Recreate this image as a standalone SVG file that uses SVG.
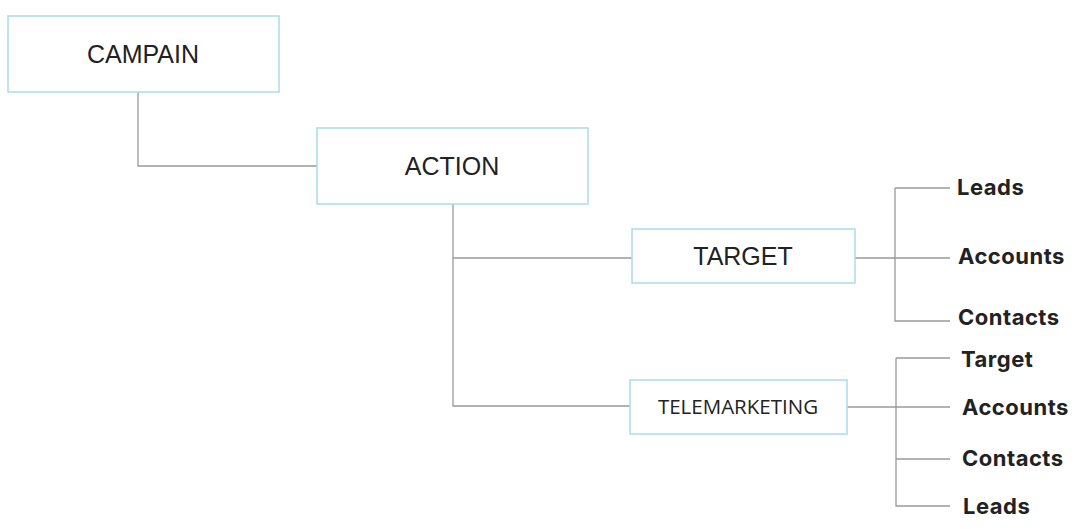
<svg xmlns="http://www.w3.org/2000/svg" width="1080" height="529" viewBox="0 0 1080 529">
<style>
.box{fill:#fff;stroke:#a9dcec;stroke-width:1.5}
.bt{font-family:"Liberation Sans",Arial,sans-serif;font-size:25px;fill:#222;text-anchor:middle}
.lb{font-family:Inter,"Liberation Sans",sans-serif;font-size:22px;font-weight:bold;fill:#222;letter-spacing:0.5px}
.c{fill:none;stroke:#9a9a9a;stroke-width:1.3}
</style>
<rect width="1080" height="529" fill="#fff"/>
<g id="connectors">
<path class="c" d="M138 92V166H317"/>
<path class="c" d="M453 204V406H630M453 258H632"/>
<path class="c" d="M855 258H950M895 188H950M895 188V321H950"/>
<path class="c" d="M847 407H950M896 358H950M896 358V506H950M896 459H950"/>
</g>
<g id="campain"><rect class="box" x="8" y="16" width="271" height="76"/><text class="bt" x="143" y="63">CAMPAIN</text></g>
<g id="action"><rect class="box" x="317" y="128" width="271" height="76"/><text class="bt" x="452" y="175">ACTION</text></g>
<g id="target"><rect class="box" x="632" y="229" width="223" height="54"/><text class="bt" x="743" y="265" font-size="23">TARGET</text></g>
<g id="telemarketing"><rect class="box" x="630" y="380" width="217" height="54"/><text class="bt" x="738" y="414" style="font-family:'Open Sans',sans-serif;font-size:20.5px">TELEMARKETING</text></g>
<g id="labels">
<text class="lb" x="957" y="195">Leads</text>
<text class="lb" x="958" y="264">Accounts</text>
<text class="lb" x="958" y="325">Contacts</text>
<text class="lb" x="961" y="367">Target</text>
<text class="lb" x="962" y="415">Accounts</text>
<text class="lb" x="962" y="466">Contacts</text>
<text class="lb" x="963" y="514">Leads</text>
</g>
</svg>
